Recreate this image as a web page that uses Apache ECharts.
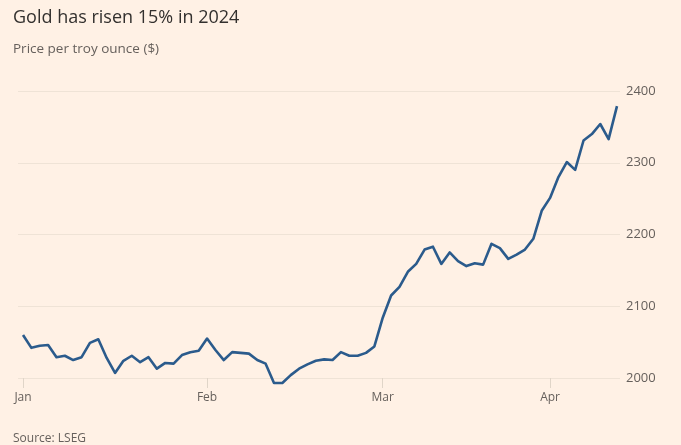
<!DOCTYPE html>
<html>
<head>
<meta charset="utf-8">
<script src="https://cdn.jsdelivr.net/npm/echarts@6/dist/echarts.min.js"></script>
<style>
html,body{margin:0;padding:0;background:#fff1e5;}
#chart{width:681px;height:445px;}
</style>
</head>
<body>
<div id="chart"></div>
<script>
// Trading days (UK, 2024)
const dates = [
  "2024-01-02","2024-01-03","2024-01-04","2024-01-05","2024-01-08","2024-01-09","2024-01-10","2024-01-11","2024-01-12",
  "2024-01-15","2024-01-16","2024-01-17","2024-01-18","2024-01-19","2024-01-22","2024-01-23","2024-01-24","2024-01-25",
  "2024-01-26","2024-01-29","2024-01-30","2024-01-31",
  "2024-02-01","2024-02-02","2024-02-05","2024-02-06","2024-02-07","2024-02-08","2024-02-09","2024-02-12","2024-02-13",
  "2024-02-14","2024-02-15","2024-02-16","2024-02-19","2024-02-20","2024-02-21","2024-02-22","2024-02-23","2024-02-26",
  "2024-02-27","2024-02-28","2024-02-29",
  "2024-03-01","2024-03-04","2024-03-05","2024-03-06","2024-03-07","2024-03-08","2024-03-11","2024-03-12","2024-03-13",
  "2024-03-14","2024-03-15","2024-03-18","2024-03-19","2024-03-20","2024-03-21","2024-03-22","2024-03-25","2024-03-26",
  "2024-03-27","2024-03-28",
  "2024-04-02","2024-04-03","2024-04-04","2024-04-05","2024-04-08","2024-04-09","2024-04-10","2024-04-11","2024-04-12"
];
const prices = [
  2060,2042,2045,2046,2029,2031,2025,2029,2049,2054,2028,2007,2024,2031,2022,2029,2013,2021,2020,2032,2036,2038,
  2055,2039,2025,2036,2035,2034,2025,2020,1993,1993,2004,2013,2019,2024,2026,2025,2036,2031,2031,2035,2044,
  2084,2115,2127,2148,2159,2179,2183,2159,2175,2163,2156,2160,2158,2187,2181,2166,2172,2179,2194,2233,
  2251,2280,2301,2290,2331,2340,2354,2333,2379
];
const monthLabels = ["Jan","Feb","Mar","Apr"];
const yTicks = [2000,2100,2200,2300,2400];

const title = "Gold has risen 15% in 2024";
const subtitle = "Price per troy ounce ($)";
const source = "Source: LSEG";

// month-start positions derived from the date list
const monthStarts = [];
dates.forEach((d,i)=>{ if(i===0 || d.slice(5,7)!==dates[i-1].slice(5,7)) monthStarts.push(i); });

const seriesData = prices.map((v,i)=>[i,v]);
const font = "'Open Sans', 'Noto Sans', sans-serif";

const chart = echarts.init(document.getElementById('chart'), null, {renderer:'canvas'});
chart.setOption({
  backgroundColor:'#fff1e5',
  animation:false,
  title:[
    {text:title, left:8, top:4, textStyle:{fontFamily:font, fontSize:18, fontWeight:'normal', color:'#33302e'}},
    {text:subtitle, left:8, top:37, textStyle:{fontFamily:font, fontSize:13.5, fontWeight:'normal', color:'#66605c'}},
    {text:source, left:8, top:428, textStyle:{fontFamily:font, fontSize:12, fontWeight:'normal', color:'#66605c'}}
  ],
  grid:{left:18, right:61, top:91, bottom:67, containLabel:false},
  xAxis:{
    type:'value',
    min:-0.6, max:71.36,
    splitLine:{show:false},
    axisLine:{show:false},
    axisTick:{show:true, customValues:monthStarts, length:10, lineStyle:{color:'#e0d5c8', width:1}},
    axisLabel:{show:true, customValues:monthStarts, margin:14,
      formatter:(v)=>{ const k = monthStarts.indexOf(Math.round(v)); return k>=0 ? monthLabels[k] : ''; },
      fontFamily:font, fontSize:12, color:'#66605c'}
  },
  yAxis:{
    type:'value',
    position:'right',
    min:yTicks[0], max:yTicks[yTicks.length-1], interval:100,
    axisLine:{show:false}, axisTick:{show:false},
    splitLine:{show:true, lineStyle:{color:'#efe3d6', width:1}},
    axisLabel:{margin:6, fontFamily:font, fontSize:13, color:'#66605c', formatter:(v)=>String(v)}
  },
  series:[{
    type:'line',
    data:seriesData,
    showSymbol:false,
    clip:false,
    lineStyle:{color:'#2b5b8c', width:2.6, join:'round'},
    z:3
  }]
});
</script>
</body>
</html>
